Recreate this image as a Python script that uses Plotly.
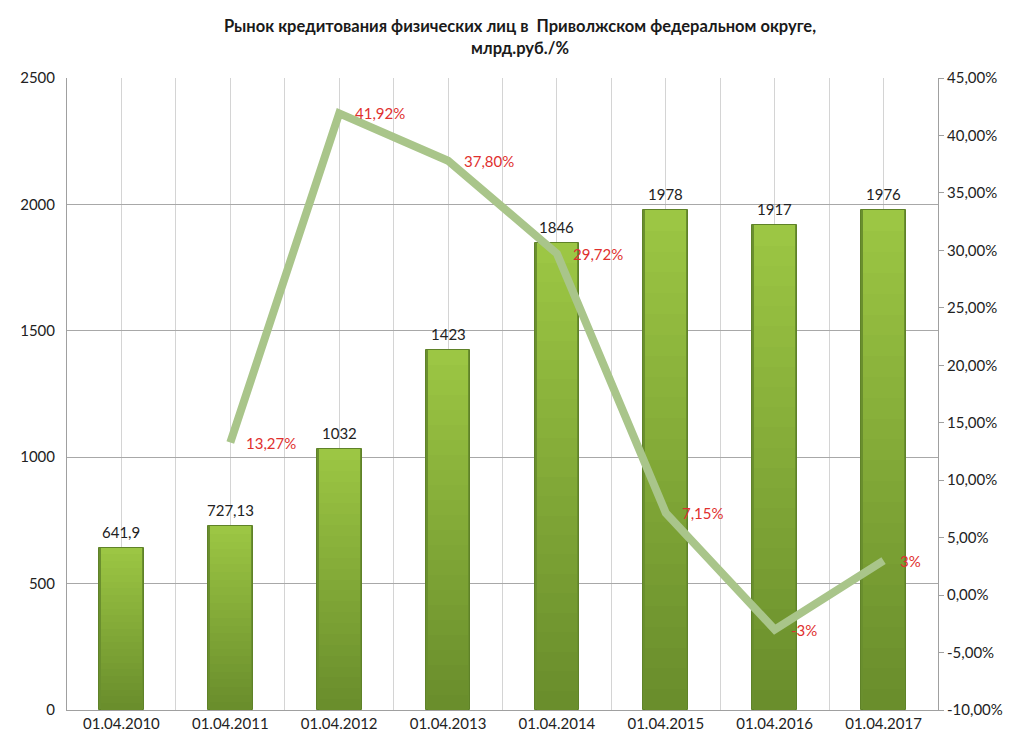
import plotly.graph_objects as go

categories = ["01.04.2010", "01.04.2011", "01.04.2012", "01.04.2013",
              "01.04.2014", "01.04.2015", "01.04.2016", "01.04.2017"]
volumes = [641.9, 727.13, 1032, 1423, 1846, 1978, 1917, 1976]
volume_labels = ["641,9", "727,13", "1032", "1423", "1846", "1978", "1917", "1976"]
growth = [None, 13.27, 41.92, 37.80, 29.72, 7.15, -3, 3]
growth_labels = ["", "13,27%", "41,92%", "37,80%", "29,72%", "7,15%", "-3%", "3%"]
left_ticks = [0, 500, 1000, 1500, 2000, 2500]
right_ticks = [-10, -5, 0, 5, 10, 15, 20, 25, 30, 35, 40, 45]
right_tick_labels = ["-10,00%", "-5,00%", "0,00%", "5,00%", "10,00%", "15,00%",
                     "20,00%", "25,00%", "30,00%", "35,00%", "40,00%", "45,00%"]

FONT = "Lato, 'Noto Sans', sans-serif"
xs = list(range(len(categories)))

fig = go.Figure()

# outer bar with darker edge
fig.add_trace(go.Bar(
    x=xs, y=volumes, width=0.41,
    marker=dict(color="#6a8f2e", line=dict(width=1, color="#5f8228")),
    showlegend=False, hoverinfo="skip"))

# overlaid shrinking bars give a light-top / darker-bottom gradient
n_seg = 24
top_rgb = (156, 198, 68)
bot_rgb = (106, 142, 44)
for i in range(n_seg):
    t = i / (n_seg - 1)
    r = int(top_rgb[0] + (bot_rgb[0] - top_rgb[0]) * t)
    g = int(top_rgb[1] + (bot_rgb[1] - top_rgb[1]) * t)
    b = int(top_rgb[2] + (bot_rgb[2] - top_rgb[2]) * t)
    frac = 1 - i / n_seg
    fig.add_trace(go.Bar(
        x=xs, y=[v * frac for v in volumes], width=0.375,
        marker=dict(color=f"rgb({r},{g},{b})", line=dict(width=0)),
        showlegend=False, hoverinfo="skip"))

fig.add_trace(go.Scatter(
    x=xs, y=growth, yaxis="y2", mode="lines",
    line=dict(color="#a9c58a", width=8), showlegend=False, connectgaps=False))

annotations = []
for x, v, lab in zip(xs, volumes, volume_labels):
    annotations.append(dict(x=x, y=v, xref="x", yref="y", text=lab,
                            showarrow=False, yanchor="bottom", yshift=5,
                            font=dict(family=FONT, size=15, color="#222222")))
for x, g, lab in zip(xs, growth, growth_labels):
    if g is None:
        continue
    annotations.append(dict(x=x, y=g, xref="x", yref="y2", text=lab,
                            showarrow=False, xanchor="left", xshift=14,
                            font=dict(family=FONT, size=15, color="#e0302e")))

fig.update_layout(
    width=1024, height=755,
    margin=dict(l=57, r=94, t=70, b=53),
    paper_bgcolor="white", plot_bgcolor="white",
    barmode="overlay", bargap=0,
    title=dict(text="<b>Рынок кредитования физических лиц в  Приволжском федеральном округе,<br>млрд.руб./%</b>",
               x=0.5, xanchor="center", y=0.968, yanchor="top",
               font=dict(family=FONT, size=16.5, color="#1a1a1a")),
    xaxis=dict(range=[-0.5, 7.5], tickvals=xs, ticktext=categories,
               showgrid=True, gridcolor="#d4d4d4", gridwidth=1,
               minor=dict(tickvals=[i - 0.5 for i in range(len(categories) + 1)],
                          showgrid=True, gridcolor="#d4d4d4", gridwidth=1),
               showline=True, linecolor="#a0a0a0", linewidth=1,
               ticks="", zeroline=False,
               tickfont=dict(family=FONT, size=15, color="#222222")),
    yaxis=dict(range=[0, 2500], tickvals=left_ticks,
               showgrid=True, gridcolor="#a8a8a8", gridwidth=1,
               showline=True, linecolor="#a0a0a0", linewidth=1,
               zeroline=False, ticks="", ticklabelstandoff=8,
               tickfont=dict(family=FONT, size=15, color="#222222")),
    yaxis2=dict(range=[-10, 45], tickvals=right_ticks, ticktext=right_tick_labels,
                overlaying="y", side="right", showgrid=False, zeroline=False,
                showline=True, linecolor="#a0a0a0", linewidth=1,
                ticks="outside", ticklen=5, tickcolor="#a0a0a0",
                tickfont=dict(family=FONT, size=15, color="#222222")),
    annotations=annotations,
)

fig.write_html("out.html")
